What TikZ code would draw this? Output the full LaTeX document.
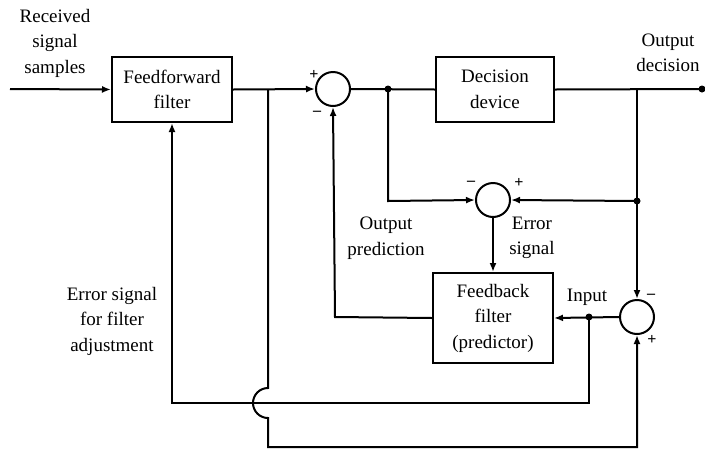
\documentclass[tikz,border=0pt]{standalone}
\usepackage{fontspec}
\setmainfont{Liberation Serif}
\usetikzlibrary{arrows.meta}
\begin{document}
\begin{tikzpicture}[x=1pt,y=-1pt,
  line width=2pt,
  blk/.style={draw,rectangle,align=center,inner sep=0pt,font=\fontsize{19}{25.5}\selectfont},
  summer/.style={draw,circle,minimum size=34pt,inner sep=0pt},
  lbl/.style={align=center,inner sep=0pt,font=\fontsize{19}{25.5}\selectfont},
  sgn/.style={inner sep=0pt,font=\fontsize{16}{16}\selectfont\bfseries},
  arr/.style={-{Latex[length=9pt,width=7pt]}},
  dot/.style={circle,fill,inner sep=0pt,minimum size=7pt}]
\useasboundingbox (0,0) rectangle (705,451);

% blocks
\node[blk,minimum width=120pt,minimum height=65pt] (ff) at (172,89.5) {Feedforward\\filter};
\node[blk,minimum width=118pt,minimum height=65pt] (dd) at (495,89.5) {Decision\\device};
\node[blk,minimum width=120pt,minimum height=90pt] (fb) at (493,318) {Feedback\\filter\\(predictor)};
\node[summer] (s1) at (333,89) {};
\node[summer] (s2) at (493,200) {};
\node[summer] (s3) at (637,317) {};

% coordinates
\coordinate (in) at (10,89);
\coordinate (ja) at (268,89);
\coordinate (j1) at (388,89);
\coordinate (out) at (702,89);
\coordinate (j2) at (637,89);
\coordinate (j3) at (637,201);
\coordinate (c1) at (388,201);
\coordinate (j4) at (589,317);
\coordinate (c2) at (589,403);
\coordinate (c3) at (172,403);
\coordinate (c4) at (335,317);
\coordinate (h1) at (268,388);
\coordinate (c5) at (268,447);
\coordinate (c6) at (637,447);

% connectors
\draw[arr] (in) -- (ff.west);
\draw[arr] (ff.east) -- (s1.west);
\draw (s1.east) -- (dd.west);
\draw (dd.east) -- (out);
\draw[arr] (j2) -- (s3.north);
\draw[arr] (j3) -- (s2.east);
\draw[arr] (j1) -- (c1) -- (s2.west);
\draw[arr] (s2.south) -- (fb.north);
\draw[arr] (s3.west) -- (fb.east);
\draw[arr] (j4) -- (c2) -- (c3) -- (ff.south);
\draw[arr] (fb.west) -- (c4) -- (s1.south);
\draw[arr] (ja) -- (h1) arc[start angle=-90,end angle=-270,radius=15] -- (c5) -- (c6) -- (s3.south);

% dots
\node[dot] at (j1) {};
\node[dot] at (out) {};
\node[dot] at (j3) {};
\node[dot] at (j4) {};

% signs
\node[sgn] at (314,75) {+};
\node[sgn] at (317,113) {\textendash};
\node[sgn] at (471,183) {\textendash};
\node[sgn] at (519,183) {+};
\node[sgn] at (651,296) {\textendash};
\node[sgn] at (652,340) {+};

% labels
\node[lbl] (l1) at (55,43) {Received\\signal\\samples};
\node[lbl] (l2) at (668,53) {Output\\decision};
\node[lbl] (l3) at (386,238) {Output\\prediction};
\node[lbl] (l4) at (532,238) {Error\\signal};
\node[lbl] (l5) at (587,297) {Input};
\node[lbl] (l6) at (112,321) {Error signal\\for filter\\adjustment};
\end{tikzpicture}
\end{document}
